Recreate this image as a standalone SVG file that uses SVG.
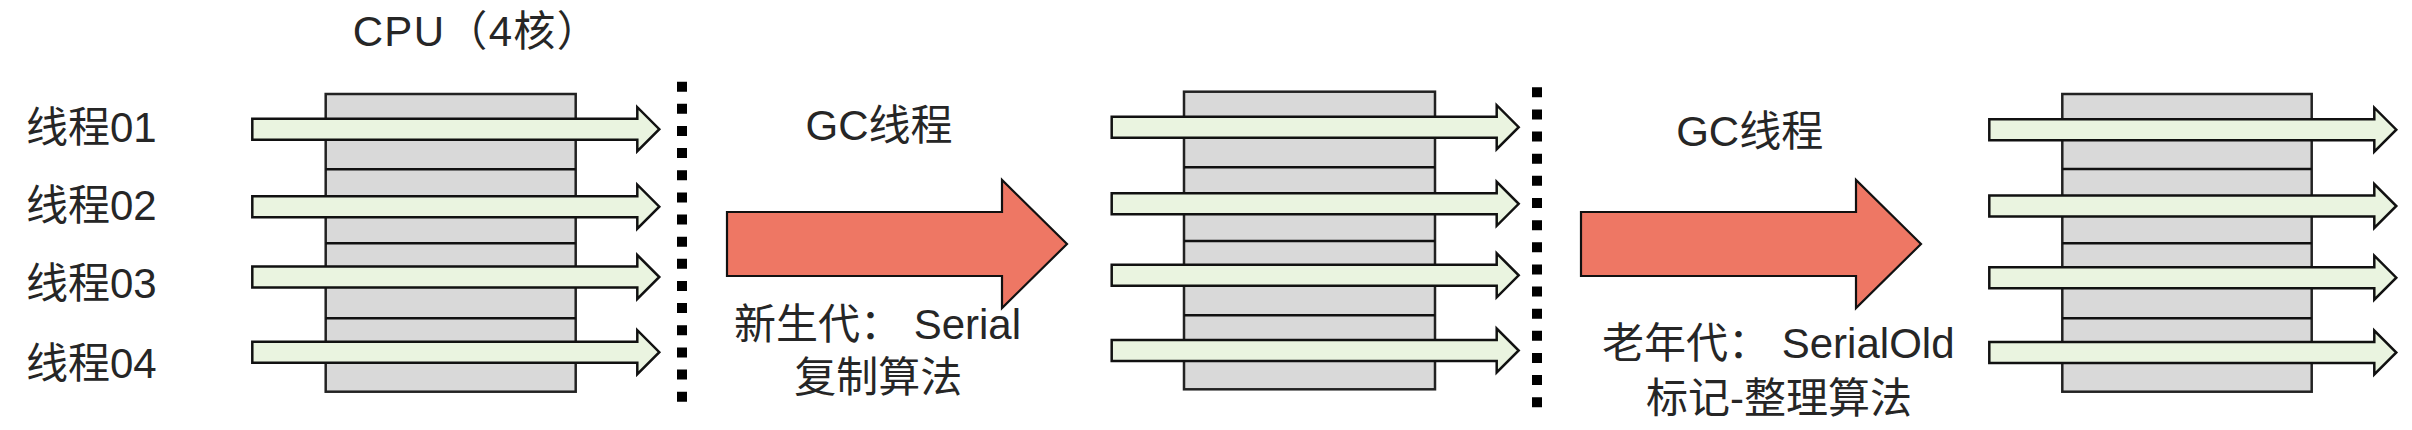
<svg xmlns="http://www.w3.org/2000/svg" xmlns:xlink="http://www.w3.org/1999/xlink" width="2412" height="430" viewBox="0 0 2412 430">
<style>
  text { font-family: "Liberation Sans", "Noto Sans CJK SC", sans-serif; font-size: 42px; fill: #262626; }
  .mid { text-anchor: middle; }
  .box { fill: #D9D9D9; stroke: #222; stroke-width: 2.5; }
  .div { stroke: #111; stroke-width: 2.5; }
  .thr { fill: #EAF4E0; stroke: #111; stroke-width: 2.5; stroke-linejoin: miter; }
  .gc { fill: #EE7764; stroke: #111; stroke-width: 2.2; }
  .dots { stroke: #000; stroke-width: 10; stroke-dasharray: 10 12.14; fill: none; }
</style>
<defs>
  <path id="thread" d="M0,-10.5 H385 V-22 L407,0 L385,22 V10.5 H0 Z"/>
  <path id="gcarrow" d="M0,-32 H275 V-64 L340,0 L275,64 V32 H0 Z"/>
</defs>
<rect width="2412" height="430" fill="#fff"/>

<g id="cpu-title"><text x="352.7" y="45.7" textLength="246" lengthAdjust="spacing">CPU（4核）</text></g>

<g id="thread-labels">
  <text x="26" y="141.7">线程01</text>
  <text x="26" y="220">线程02</text>
  <text x="26" y="298.3">线程03</text>
  <text x="26" y="378.3">线程04</text>
</g>

<g id="cpu-1">
  <rect class="box" x="325.7" y="94" width="250" height="297.7"/>
  <line class="div" x1="325.7" y1="169.3" x2="575.7" y2="169.3"/>
  <line class="div" x1="325.7" y1="243.3" x2="575.7" y2="243.3"/>
  <line class="div" x1="325.7" y1="318.3" x2="575.7" y2="318.3"/>
</g>
<g id="cpu-2">
  <rect class="box" x="1184" y="91.7" width="251" height="297.6"/>
  <line class="div" x1="1184" y1="167.3" x2="1435" y2="167.3"/>
  <line class="div" x1="1184" y1="241" x2="1435" y2="241"/>
  <line class="div" x1="1184" y1="315.3" x2="1435" y2="315.3"/>
</g>
<g id="cpu-3">
  <rect class="box" x="2062.3" y="94" width="249.4" height="297.7"/>
  <line class="div" x1="2062.3" y1="169" x2="2311.7" y2="169"/>
  <line class="div" x1="2062.3" y1="243.3" x2="2311.7" y2="243.3"/>
  <line class="div" x1="2062.3" y1="318.3" x2="2311.7" y2="318.3"/>
</g>

<g id="connectors">
  <g id="threads-1">
    <use xlink:href="#thread" href="#thread" class="thr" transform="translate(252.3,129.2)"/>
    <use xlink:href="#thread" href="#thread" class="thr" transform="translate(252.3,206.7)"/>
    <use xlink:href="#thread" href="#thread" class="thr" transform="translate(252.3,277)"/>
    <use xlink:href="#thread" href="#thread" class="thr" transform="translate(252.3,352.2)"/>
  </g>
  <g id="threads-2">
    <use xlink:href="#thread" href="#thread" class="thr" transform="translate(1111.7,127.2)"/>
    <use xlink:href="#thread" href="#thread" class="thr" transform="translate(1111.7,203.8)"/>
    <use xlink:href="#thread" href="#thread" class="thr" transform="translate(1111.7,275.3)"/>
    <use xlink:href="#thread" href="#thread" class="thr" transform="translate(1111.7,350.5)"/>
  </g>
  <g id="threads-3">
    <use xlink:href="#thread" href="#thread" class="thr" transform="translate(1989.3,129.7)"/>
    <use xlink:href="#thread" href="#thread" class="thr" transform="translate(1989.3,206)"/>
    <use xlink:href="#thread" href="#thread" class="thr" transform="translate(1989.3,277.7)"/>
    <use xlink:href="#thread" href="#thread" class="thr" transform="translate(1989.3,352.5)"/>
  </g>
  <use id="gc-arrow-1" xlink:href="#gcarrow" href="#gcarrow" class="gc" transform="translate(727,244)"/>
  <use id="gc-arrow-2" xlink:href="#gcarrow" href="#gcarrow" class="gc" transform="translate(1581,244)"/>
</g>

<g id="pause-1"><line class="dots" x1="682" y1="81.7" x2="682" y2="401.7"/></g>
<g id="pause-2"><line class="dots" x1="1537" y1="87.3" x2="1537" y2="407.7"/></g>

<g id="gc-young">
  <text x="879" y="140" class="mid">GC线程</text>
  <text x="877.5" y="339.3" class="mid">新生代： Serial</text>
  <text x="878.3" y="392" class="mid">复制算法</text>
</g>
<g id="gc-old">
  <text x="1749.7" y="146" class="mid">GC线程</text>
  <text x="1778.3" y="358.3" class="mid">老年代： SerialOld</text>
  <text x="1779" y="413" class="mid">标记-整理算法</text>
</g>
</svg>
